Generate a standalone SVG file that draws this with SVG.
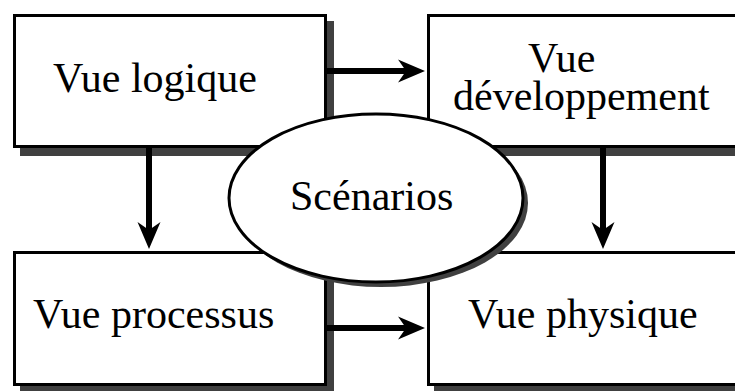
<svg xmlns="http://www.w3.org/2000/svg" width="735" height="391" viewBox="0 0 735 391">
<style>
.box{fill:#fff;stroke:#000;stroke-width:3}
.shadow{fill:#404040;stroke:none}
.lbl{font-family:"Liberation Serif","Times New Roman",serif;font-size:42px;fill:#000}
.conn{stroke:#000;stroke-width:6;fill:none}
</style>
<defs>
<marker id="ah" markerUnits="userSpaceOnUse" markerWidth="28" markerHeight="24" viewBox="0 -12 28 24" refX="9" refY="0" orient="auto" overflow="visible">
<path d="M27,0 L0,-11.5 L8,0 L0,11.5 Z" fill="#000"/>
</marker>
</defs>
<rect width="735" height="391" fill="#fff"/>
<g id="vue-logique">
<rect class="shadow" x="20" y="21" width="314" height="135"/>
<rect class="box" x="14.5" y="15.5" width="311" height="131"/>
<text class="lbl" x="53" y="92">Vue logique</text>
</g>
<g id="vue-developpement">
<rect class="shadow" x="434" y="21" width="320" height="135"/>
<rect class="box" x="428.5" y="15.5" width="320" height="131"/>
<text class="lbl" x="528" y="72">Vue</text>
<text class="lbl" x="453" y="110">développement</text>
</g>
<g id="vue-processus">
<rect class="shadow" x="20" y="258" width="314" height="135"/>
<rect class="box" x="14.5" y="252.5" width="311" height="132"/>
<text class="lbl" x="33" y="328">Vue processus</text>
</g>
<g id="vue-physique">
<rect class="shadow" x="434" y="258" width="320" height="135"/>
<rect class="box" x="428.5" y="252.5" width="320" height="132"/>
<text class="lbl" x="468" y="328">Vue physique</text>
</g>
<g id="connectors">
<line class="conn" x1="327" y1="71" x2="407" y2="71" marker-end="url(#ah)"/>
<line class="conn" x1="327" y1="328" x2="407" y2="328" marker-end="url(#ah)"/>
<line class="conn" x1="149" y1="148" x2="149" y2="231" marker-end="url(#ah)"/>
<line class="conn" x1="603" y1="148" x2="603" y2="231" marker-end="url(#ah)"/>
</g>
<g id="scenarios">
<ellipse class="shadow" cx="381" cy="203" rx="147" ry="84"/>
<ellipse class="box" cx="376" cy="198" rx="147" ry="84"/>
<text class="lbl" x="290" y="210">Scénarios</text>
</g>
</svg>
